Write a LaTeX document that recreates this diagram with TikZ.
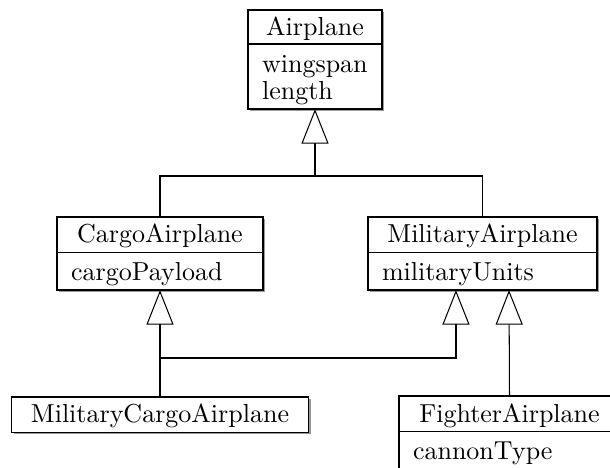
\documentclass[tikz,border=0pt]{standalone}
\usetikzlibrary{arrows.meta,shadows}
\tikzset{
  umlbox/.style={draw=black, line width=0.45pt, fill=white, inner sep=0pt, outer sep=0pt,
    drop shadow={shadow xshift=0.8pt, shadow yshift=-0.8pt, fill=black!40, opacity=1}},
  hdr/.style={umlbox, anchor=north, text height=7.5pt, text depth=1.3pt},
  attrs/.style={umlbox, anchor=north, inner xsep=5.4pt, align=left},
  attrsone/.style={attrs, text height=8.6pt, text depth=1.7pt},
  link/.style={line width=0.4pt},
  gen/.style={line width=0.4pt, -{Triangle[open, length=13.3pt, width=10.4pt, fill=white]}}
}
\begin{document}
\begin{tikzpicture}[x=0.3846pt, y=-0.3846pt]
\useasboundingbox (0,0) rectangle (610,468);
% Airplane
\node[hdr, minimum width=51.5pt, minimum height=13.1pt] (airplane) at (315,10) {Airplane};
\node[attrs, text width=40.7pt, minimum height=25pt] (airplane-attrs) at (airplane.south)
  {\rule{0pt}{9.34pt}wingspan\\[-1.4pt]length};
% CargoAirplane
\node[hdr, minimum width=79.2pt, minimum height=13.5pt] (cargo) at (160,217) {CargoAirplane};
\node[attrsone, text width=68.4pt, minimum height=14.6pt] (cargo-attrs) at (cargo.south) {cargoPayload};
% MilitaryAirplane
\node[hdr, minimum width=88.1pt, minimum height=13.5pt] (military) at (482.5,217) {MilitaryAirplane};
\node[attrsone, text width=77.3pt, minimum height=14.6pt] (military-attrs) at (military.south) {militaryUnits};
% MilitaryCargoAirplane
\node[hdr, minimum width=114.2pt, minimum height=13.5pt] (mcargo) at (160,397) {MilitaryCargoAirplane};
% FighterAirplane
\node[hdr, minimum width=85pt, minimum height=13.8pt] (fighter) at (509.5,396) {FighterAirplane};
\node[attrsone, text width=74.2pt, minimum height=14.6pt] (fighter-attrs) at (fighter.south) {cannonType};
% connectors
\coordinate (j1) at (315,176);
\coordinate (j2) at (160,358);
\draw[link] (cargo.north) |- (j1) -| (military.north);
\draw[gen] (j1) -- (airplane-attrs.south);
\draw[gen] (mcargo.north) -- (cargo-attrs.south);
\draw[gen] (j2) -| ([xshift=-10.2pt]military-attrs.south);
\draw[gen] (fighter.north) -- ([xshift=10.2pt]military-attrs.south);
\end{tikzpicture}
\end{document}
